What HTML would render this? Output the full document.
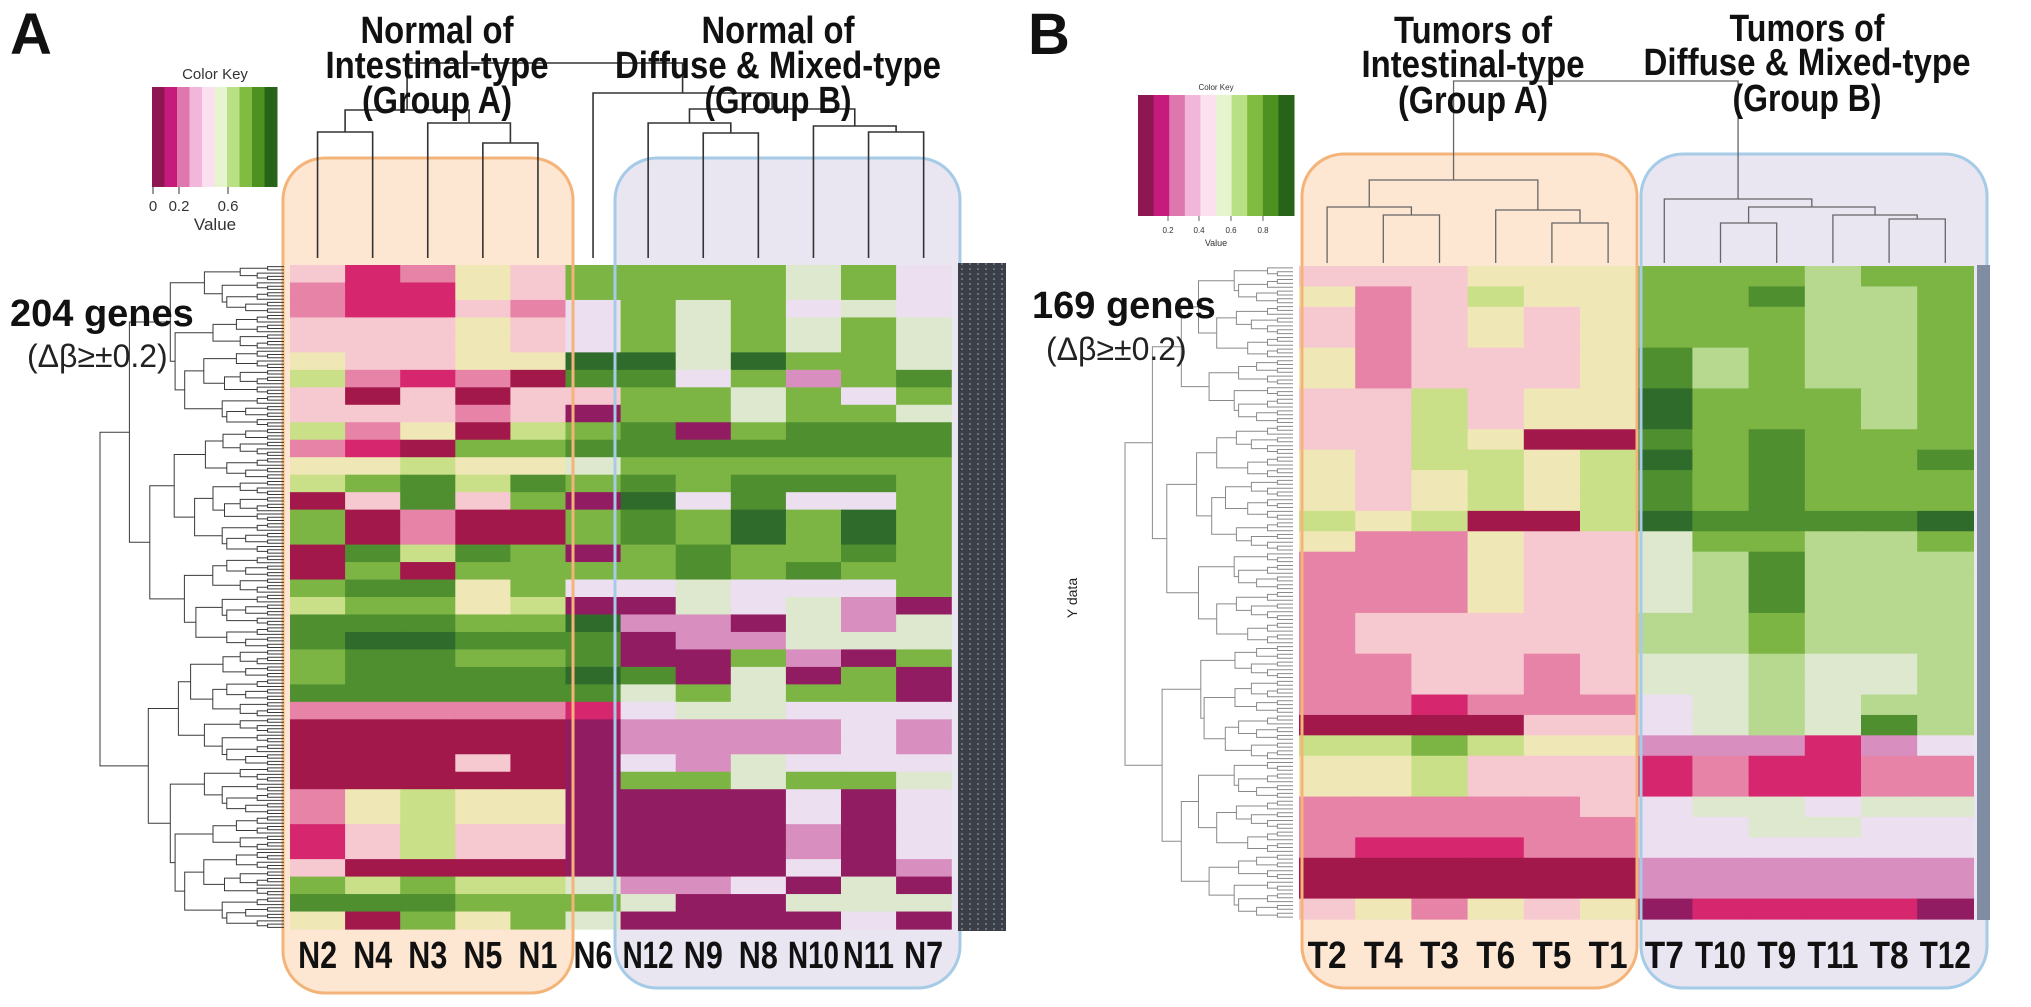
<!DOCTYPE html>
<html><head><meta charset="utf-8">
<style>
html,body{margin:0;padding:0;background:#fff;}
svg{display:block;}
.t{font-family:"Liberation Sans Narrow","Liberation Sans",sans-serif;font-weight:bold;fill:#111;}
</style></head>
<body>
<svg id="fig" width="2031" height="1007" viewBox="0 0 2031 1007" xmlns="http://www.w3.org/2000/svg">
  <g id="bg"></g>
  <g id="heat"></g>
  <g id="fg"></g>

  <text x="10" y="54" font-family="Liberation Sans, sans-serif" font-weight="bold" font-size="58" fill="#111">A</text>
  <text x="1028" y="54" font-family="Liberation Sans, sans-serif" font-weight="bold" font-size="58" fill="#111">B</text>

  <g class="t" font-size="38" text-anchor="middle">
    <text x="437" y="43" textLength="153" lengthAdjust="spacingAndGlyphs">Normal of</text><text x="437" y="78" textLength="223" lengthAdjust="spacingAndGlyphs">Intestinal-type</text><text x="437" y="113" textLength="150" lengthAdjust="spacingAndGlyphs">(Group A)</text>
  </g>
  <g class="t" font-size="38" text-anchor="middle">
    <text x="778" y="43" textLength="153" lengthAdjust="spacingAndGlyphs">Normal of</text><text x="778" y="78" textLength="326" lengthAdjust="spacingAndGlyphs">Diffuse &amp; Mixed-type</text><text x="778" y="113" textLength="147" lengthAdjust="spacingAndGlyphs">(Group B)</text>
  </g>
  <g class="t" font-size="38" text-anchor="middle">
    <text x="1473" y="43" textLength="158" lengthAdjust="spacingAndGlyphs">Tumors of</text><text x="1473" y="77" textLength="223" lengthAdjust="spacingAndGlyphs">Intestinal-type</text><text x="1473" y="113" textLength="150" lengthAdjust="spacingAndGlyphs">(Group A)</text>
  </g>
  <g class="t" font-size="38" text-anchor="middle">
    <text x="1807" y="41" textLength="155" lengthAdjust="spacingAndGlyphs">Tumors of</text><text x="1807" y="75" textLength="327" lengthAdjust="spacingAndGlyphs">Diffuse &amp; Mixed-type</text><text x="1807" y="111" textLength="149" lengthAdjust="spacingAndGlyphs">(Group B)</text>
  </g>

  <text x="10" y="326" font-family="Liberation Sans, sans-serif" font-weight="bold" font-size="38" fill="#111">204 genes</text>
  <text x="27" y="367" font-family="Liberation Sans, sans-serif" font-size="32" fill="#222">(Δβ≥±0.2)</text>
  <text x="1032" y="318" font-family="Liberation Sans, sans-serif" font-weight="bold" font-size="38" fill="#111">169 genes</text>
  <text x="1046" y="360" font-family="Liberation Sans, sans-serif" font-size="32" fill="#222">(Δβ≥±0.2)</text>
  <text transform="translate(1077,598) rotate(-90)" text-anchor="middle" font-family="Liberation Sans, sans-serif" font-size="14" fill="#222">Y data</text>
</svg>
<script>
// ---------- data ----------
var palette = {a:'#a3184a',b:'#d6266e',c:'#e683a6',d:'#f6c8d0',e:'#f0e7b6',f:'#c9df88',g:'#7db544',h:'#4f8f30',i:'#2f6b2a',p:'#921c62',q:'#d98ec0',r:'#ecdff0',s:'#dde8cf',t:'#b6d98f'};
var keyColors = ['#8e1752','#c51b7d','#de77ae','#f1b6da','#fde0ef','#e6f5d0','#b8e186','#7fbc41','#4d9221','#276419'];
var colsA = ['N2','N4','N3','N5','N1','N6','N12','N9','N8','N10','N11','N7'];
var colsB = ['T2','T4','T3','T6','T5','T1','T7','T10','T9','T11','T8','T12'];
var rowsA = [
'dbcedggggsgr','cbbedggggsgr','cbbdcrgsgrsr','dddedrgsgsgs','dddedrgsgsgs','eddeeiisiggs',
'fcbcahhrgqgh','dadaddggsgrg','dddcdpggsggs','fceafghpghhh','cbagghhhhhhh','eefeesgggggg',
'fghfhghghhhg','adhdgpirhrrg','gacaaghgigig','gacaaghgigig','ahfhgpghgghg','agagggghghgg',
'ghhegrrsrrrg','fggefppsrsqp','hhhggiqqpsqs','hiihhhpqqsss','ghhgghppgqpg','ghhhhihpspgp',
'hhhhhhsgsggp','cccccbrssrrr','aaaaapqqqqrq','aaaaapqqqqrq','aaadaprqsrrr','aaaaapggsggs',
'cefeepppprpr','cefeepppprpr','bdfddppppqpr','bdfddppppqpr','daaaapppprpq','gfgffsqqrpsp',
'hhhgggsppsss','eagegspppprp'
];
var rowsB = [
'dddeeegggtgg','ecdfeegghttg','dcdedegggttg','dcdedegggttg','ecdddehtgttg','ecdddehtgttg',
'ddfdeeigggtg','ddfdeeigggtg','ddfeaahghggg','edffefighggh','edefefhghggg','edefefhghggg',
'fefaafihhhhi','ecceddsggttg','ccceddsthttt','ccceddsthttt','ccceddsthttt','cdddddttgttt',
'cdddddttgttt','ccddcdsstsst','ccddcdsstsst','ccbcccrststt','aaaaddrstsht','ffgfeeqqqbqr',
'eefdddbcbbcc','eefdddbcbbcc','cccccdrssrss','ccccccrrssrr','cbbbccrrrrrr','aaaaaaqqqqqq','aaaaaaqqqqqq','decedepbbbbp'
];
// column dendrogram merges: [left, right, joinY]; indices >= 100 refer to earlier merges
var mergesA = [[0,1,132],[3,4,143],[2,101,123],[100,102,110],[7,8,133],[6,104,123],[10,11,132],[9,106,126],[105,107,109],[5,108,93],[103,109,63]];
var mergesB = [[1,2,215],[0,100,207],[4,5,223],[3,102,210],[101,103,180],[7,8,223],[10,11,219],[9,106,215],[105,107,207],[6,108,199],[104,109,81]];

// ---------- helpers ----------
var NS='http://www.w3.org/2000/svg';
function mk(tag, parent, attrs){var e=document.createElementNS(NS,tag);for(var k in attrs)e.setAttribute(k,attrs[k]);parent.appendChild(e);return e;}
var bg=document.getElementById('bg'), heat=document.getElementById('heat'), fg=document.getElementById('fg');

var panels = [
 {name:'a', rows:rowsA, cols:colsA, merges:mergesA, x0:290, colW:55.1, y0:265, y1:929, leafY:258, dstroke:'#333', dw:1.6,
  rootX:100, leafX:284, nLeaves:204, rdStroke:'#3a3a3a',
  boxes:[[283,158,573,993,'#fde7d2','#f4b479'],[615,158,960,988,'#e9e5f1','#a5cbe7']],
  strip:[958,263,48,668,'#3b3f48'], key:[152,87,125,100]},
 {name:'b', rows:rowsB, cols:colsB, merges:mergesB, x0:1299, colW:56.2, y0:266, y1:919, leafY:263, dstroke:'#666', dw:1.3,
  rootX:1125, leafX:1293, nLeaves:169, rdStroke:'#8a8a8a',
  boxes:[[1302,154,1637,988,'#fde7d2','#f4b479'],[1641,154,1987,988,'#e9e5f1','#a5cbe7']],
  strip:[1977,265,13,655,'#7f8ca2'], key:[1138,95,156,121]}
];

panels.forEach(function(P){
  P.boxes.forEach(function(b,bi){
    var r=mk('rect',bg,{x:b[0],y:b[1],width:b[2]-b[0],height:b[3]-b[1],rx:42,ry:42,fill:b[4]});
    
    
  });
  var nR=P.rows.length, rowH=(P.y1-P.y0)/nR;
  function xScale(ci){return P.x0+ci*P.colW;}
  function yScale(ri){return P.y0+ri*rowH;}
  P.rows.forEach(function(row,ri){
    for(var ci=0;ci<P.cols.length;ci++){
      var c=palette[row.charAt(ci)]||'#eee';
      var cell=mk('rect',heat,{x:xScale(ci).toFixed(2),y:yScale(ri).toFixed(2),width:(P.colW+0.6).toFixed(2),height:(rowH+0.6).toFixed(2),fill:c});
      
      
    }
  });
  P.boxes.forEach(function(b,bi){
    var r=mk('rect',fg,{x:b[0],y:b[1],width:b[2]-b[0],height:b[3]-b[1],rx:42,ry:42,fill:'none',stroke:b[5],'stroke-width':3});
    
    
  });
  P.cols.forEach(function(lab,ci){
    var t=mk('text',fg,{x:(xScale(ci)+P.colW/2).toFixed(1),y:968,'text-anchor':'middle','class':'t','font-size':38,textLength:(15+12*lab.length),lengthAdjust:'spacingAndGlyphs'});
    t.textContent=lab;
    
    
  });
  var nodes={};
  for(var ci=0;ci<P.cols.length;ci++) nodes[ci]={x:xScale(ci)+P.colW/2,y:P.leafY};
  var dg=mk('g',fg,{stroke:P.dstroke,'stroke-width':P.dw,fill:'none'});
  
  
  P.merges.forEach(function(m,mi){
    var L=nodes[m[0]], R=nodes[m[1]], y=m[2];
    mk('path',dg,{d:'M'+L.x+','+L.y+'V'+y+'H'+R.x+'V'+R.y});
    nodes[100+mi]={x:(L.x+R.x)/2,y:y};
  });
  var rg=mk('g',fg,{stroke:P.rdStroke,'stroke-width':1,fill:'none'});
  
  
  var N=P.nLeaves, lh=(P.y1-P.y0)/N, W=P.leafX-P.rootX, LN=Math.log(N);
  function build(lo,hi,depth){
    var n=hi-lo;
    if(n===1) return {x:P.leafX,y:P.y0+(lo+0.5)*lh};
    var frac=(depth%2)?0.42:0.58; if(((lo*7+hi*3)%5)===0) frac=0.3;
    var mid=lo+Math.max(1,Math.min(n-1,Math.round(n*frac)));
    var a=build(lo,mid,depth+1), b=build(mid,hi,depth+1);
    var x=P.leafX-W*Math.pow(Math.log(n)/LN,1.15)*(0.88+0.12*((lo*13+hi*7)%10)/10);
    if(n===N) x=P.rootX;
    x=Math.min(x,a.x-3,b.x-3);
    mk('path',rg,{d:'M'+a.x.toFixed(1)+','+a.y.toFixed(1)+'H'+x.toFixed(1)+'V'+b.y.toFixed(1)+'H'+b.x.toFixed(1)});
    return {x:x,y:(a.y+b.y)/2};
  }
  build(0,N,0);
  var s=P.strip;
  var st=mk('rect',fg,{x:s[0],y:s[1],width:s[2],height:s[3],fill:s[4]});
  
  
  for(var k=0;k<6 && s[2]>20;k++){
    mk('line',fg,{x1:s[0]+4+k*8,y1:s[1],x2:s[0]+4+k*8,y2:s[1]+s[3],stroke:'#8d93a0','stroke-width':1.2,'stroke-dasharray':'2 3'});
  }
  var K=P.key, kw=K[2]/keyColors.length;
  var kg=mk('g',fg,{});
  
  
  keyColors.forEach(function(c,i){mk('rect',kg,{x:(K[0]+i*kw).toFixed(1),y:K[1],width:(kw+0.5).toFixed(1),height:K[3],fill:c});});
});

(function(){
  var g=document.getElementById('fg');
  function tx(x,y,s,txt,anchor){var t=mk('text',g,{x:x,y:y,'font-family':'Liberation Sans Narrow, Liberation Sans, sans-serif','font-size':s,fill:'#333','text-anchor':anchor||'middle'});t.textContent=txt;return t;}
  tx(215,79,15,'Color Key');
  [[153,'0'],[179,'0.2'],[228,'0.6']].forEach(function(p){mk('line',g,{x1:p[0],y1:187,x2:p[0],y2:194,stroke:'#333'});tx(p[0],211,15,p[1]);});
  tx(215,230,17,'Value');
  tx(1216,90,8,'Color Key');
  [[1168,'0.2'],[1199,'0.4'],[1231,'0.6'],[1263,'0.8']].forEach(function(p){mk('line',g,{x1:p[0],y1:216,x2:p[0],y2:221,stroke:'#666'});tx(p[0],233,8,p[1]);});
  tx(1216,246,9,'Value');
})();
</script>
</body></html>
